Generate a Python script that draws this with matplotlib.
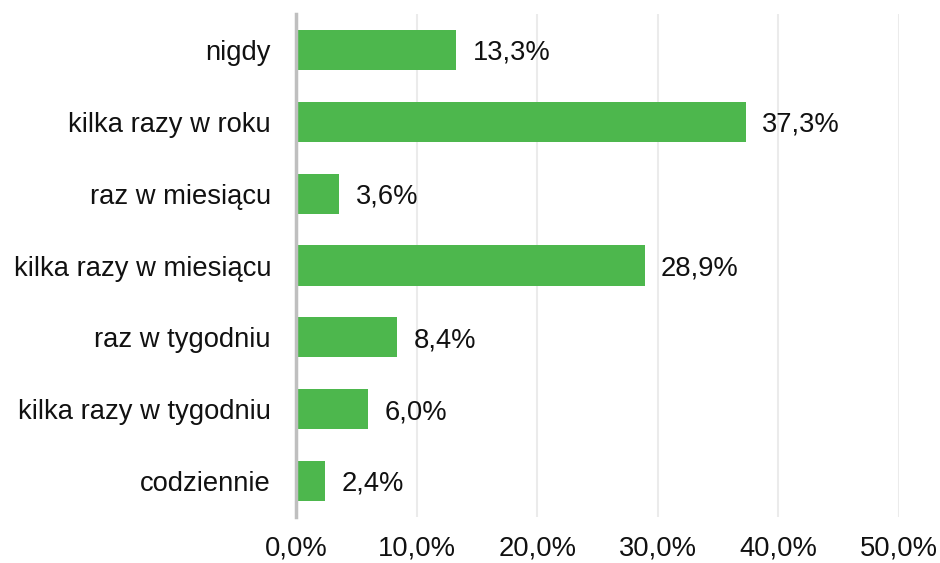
import matplotlib
matplotlib.use("Agg")
import matplotlib.pyplot as plt

categories = ["nigdy", "kilka razy w roku", "raz w miesiącu", "kilka razy w miesiącu",
              "raz w tygodniu", "kilka razy w tygodniu", "codziennie"]
values = [13.3, 37.3, 3.6, 28.9, 8.4, 6.0, 2.4]
ticks = [0, 10, 20, 30, 40, 50]

plt.rcParams["font.family"] = ["Liberation Sans", "DejaVu Sans"]

fig = plt.figure(figsize=(9.4, 5.63), dpi=100)
ax = fig.add_axes([296 / 940, 1 - 517 / 563, (899 - 296) / 940, (517 - 14) / 563])

ypos = list(range(len(categories)))
ax.barh(ypos, values, height=0.56, color="#4db74d", zorder=3)
for y, v in zip(ypos, values):
    ax.text(v + 1.35, y + 0.04, f"{v:.1f}%".replace(".", ","), va="center", ha="left",
            fontsize=19.7, color="#111111")

ax.set_xlim(0, 50)
ax.set_ylim(len(categories) - 0.5, -0.5)
ax.set_yticks(ypos)
ax.set_yticklabels(categories, fontsize=19.7, color="#111111")
ax.set_xticks(ticks)
ax.set_xticklabels([f"{t:.1f}%".replace(".", ",") for t in ticks], fontsize=19.7, color="#111111")
ax.tick_params(axis="both", length=0)
ax.tick_params(axis="x", pad=13)
ax.tick_params(axis="y", pad=18)
ax.grid(axis="x", color="#ebebeb", linewidth=1.5, zorder=0)
for s in ["top", "right", "bottom"]:
    ax.spines[s].set_visible(False)
ax.spines["left"].set_color("#bfbfbf")
ax.spines["left"].set_linewidth(2.5)
ax.spines["left"].set_zorder(4)

fig.savefig("out.png", dpi=100)
